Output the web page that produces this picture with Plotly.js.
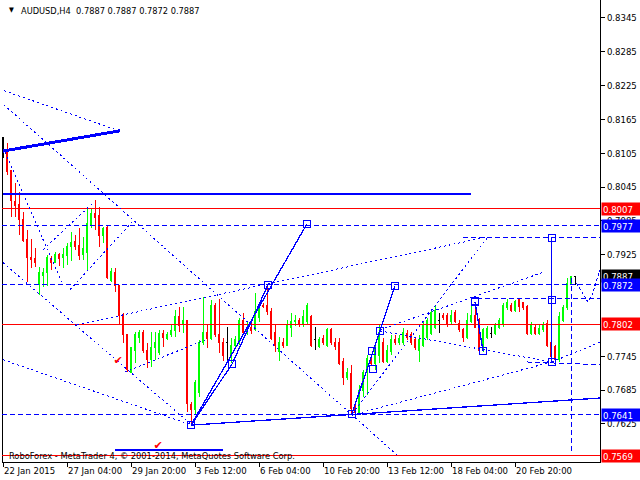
<!DOCTYPE html>
<html><head><meta charset="utf-8">
<script src="https://cdn.plot.ly/plotly-3.0.1.min.js"></script>
<style>body{margin:0;background:#fff} #chart path{shape-rendering:crispEdges !important}</style>
</head><body><div id="chart" style="width:640px;height:480px"></div>
<script>
// ---- axis data ----
const tickIndex = [0,16,32,48,64,80,96,112,128];
const tickLabels = ['22 Jan 2015','27 Jan 04:00','29 Jan 20:00','3 Feb 12:00','6 Feb 04:00','10 Feb 20:00','13 Feb 12:00','18 Feb 04:00','20 Feb 20:00'];
const priceTicks = [0.7625,0.7685,0.7745,0.7925,0.7985,0.8045,0.8105,0.8165,0.8225,0.8285,0.8345];
const priceMin = 0.75576, priceMax = 0.83769;
const barMin = -0.25, barMax = 149.25;

// ---- H4 bars (O,H,L,C) ----
const open = [.8109,.8107,.8074,.8020,.8015,.7987,.7953,.7921,.7919,.7875,.7889,.7893,.7919,.7912,.7925,.7921,.7923,.7939,.7948,.7942,
.7925,.7930,.7978,.7999,.7994,.7960,.7973,.7880,.7893,.7870,.7818,.7783,.7717,.7756,.7779,.7788,.7756,.7739,.7760,.7751,
.7786,.7777,.7783,.7790,.7815,.7801,.7808,.7660,.7650,.7680,.7770,.7788,.7777,.7836,.7783,.7770,.7770,.7747,.7765,.7769,
.7809,.7788,.7797,.7792,.7813,.7836,.7836,.7824,.7788,.7753,.7770,.7765,.7797,.7806,.7808,.7801,.7806,.7815,.7774,.7762,
.7777,.7765,.7792,.7769,.7769,.7735,.7707,.7715,.7655,.7646,.7685,.7717,.7742,.7733,.7747,.7770,.7735,.7753,.7774,.7769,
.7770,.7786,.7783,.7774,.7756,.7765,.7779,.7786,.7797,.7809,.7818,.7818,.7806,.7822,.7804,.7792,.7779,.7806,.7818,.7809,
.7756,.7779,.7786,.7786,.7797,.7801,.7831,.7836,.7827,.7845,.7840,.7833,.7786,.7797,.7786,.7792,.7804,.7769,.7762,.7739,
.7809,.7831,.7875,.7887];
const high = [.8134,.8123,.8075,.8052,.8036,.8001,.7969,.7953,.7937,.7903,.7902,.7925,.7923,.7930,.7928,.7937,.7946,.7966,.7960,.7973,
.7957,.8008,.8008,.8022,.8010,.7974,.7978,.7902,.7902,.7872,.7822,.7785,.7762,.7788,.7792,.7792,.7769,.7788,.7788,.7792,
.7792,.7788,.7801,.7827,.7832,.7832,.7809,.7664,.7703,.7774,.7850,.7801,.7845,.7840,.7847,.7777,.7797,.7777,.7781,.7813,
.7822,.7806,.7809,.7857,.7840,.7840,.7872,.7831,.7801,.7779,.7777,.7809,.7822,.7818,.7813,.7827,.7840,.7818,.7797,.7779,
.7783,.7795,.7795,.7777,.7777,.7742,.7724,.7730,.7659,.7694,.7721,.7747,.7747,.7765,.7801,.7777,.7765,.7783,.7783,.7783,
.7795,.7792,.7788,.7779,.7783,.7806,.7813,.7827,.7836,.7822,.7822,.7822,.7827,.7827,.7809,.7795,.7822,.7840,.7840,.7813,
.7795,.7799,.7797,.7804,.7813,.7840,.7847,.7840,.7845,.7847,.7842,.7836,.7806,.7801,.7801,.7806,.7809,.7774,.7765,.7824,
.7836,.7884,.7887,.7887];
const low = [.8097,.8067,.7992,.7992,.7960,.7948,.7877,.7902,.7903,.7854,.7868,.7870,.7898,.7911,.7905,.7902,.7907,.7914,.7934,.7916,
.7916,.7896,.7973,.7969,.7939,.7946,.7882,.7877,.7859,.7801,.7769,.7717,.7715,.7733,.7769,.7751,.7724,.7726,.7739,.7747,
.7762,.7774,.7779,.7779,.7788,.7786,.7646,.7623,.7641,.7673,.7765,.7760,.7774,.7779,.7751,.7736,.7736,.7734,.7760,.7765,
.7785,.7783,.7785,.7790,.7806,.7831,.7818,.7774,.7753,.7736,.7760,.7763,.7779,.7799,.7797,.7797,.7801,.7762,.7756,.7760,
.7765,.7762,.7765,.7756,.7730,.7694,.7703,.7645,.7641,.7645,.7673,.7676,.7730,.7721,.7733,.7733,.7733,.7747,.7765,.7765,
.7765,.7774,.7765,.7756,.7735,.7762,.7774,.7783,.7793,.7786,.7809,.7797,.7801,.7804,.7788,.7770,.7776,.7804,.7795,.7753,
.7753,.7776,.7777,.7783,.7793,.7797,.7827,.7824,.7824,.7824,.7827,.7783,.7783,.7783,.7783,.7788,.7762,.7739,.7735,.7735,
.7806,.7827,.7872,.7872];
const close = [.8109,.8072,.8022,.8013,.7987,.7951,.7921,.7916,.7912,.7893,.7893,.7921,.7912,.7925,.7919,.7925,.7939,.7946,.7939,.7923,
.7937,.7981,.7999,.7992,.7960,.7971,.7884,.7895,.7870,.7818,.7783,.7721,.7760,.7783,.7788,.7756,.7739,.7760,.7770,.7786,
.7779,.7783,.7790,.7815,.7799,.7809,.7662,.7650,.7698,.7770,.7788,.7777,.7836,.7783,.7770,.7747,.7770,.7765,.7774,.7809,
.7788,.7797,.7790,.7825,.7836,.7834,.7824,.7777,.7765,.7770,.7765,.7801,.7806,.7808,.7801,.7815,.7836,.7765,.7774,.7774,
.7769,.7792,.7769,.7762,.7733,.7707,.7717,.7653,.7645,.7685,.7717,.7742,.7733,.7760,.7788,.7735,.7756,.7774,.7769,.7776,
.7788,.7779,.7769,.7760,.7774,.7801,.7809,.7822,.7827,.7809,.7813,.7801,.7818,.7806,.7792,.7779,.7809,.7818,.7797,.7756,
.7792,.7795,.7786,.7801,.7809,.7836,.7840,.7827,.7842,.7833,.7831,.7786,.7801,.7786,.7795,.7801,.7765,.7744,.7739,.7815,
.7831,.7875,.7886,.7887];

// ---- levels and labels ----
const redLevels = [0.8007, 0.7802, 0.7569];
const blueDashLevels = [0.7977, 0.7872, 0.7641];
const labelLevels = [0.8007, 0.7977, 0.7887, 0.7872, 0.7802, 0.7641, 0.7569];
const labelColors = ['#ff0000','#0000ff','#000000','#0000ff','#ff0000','#0000ff','#ff0000'];

// ---- drawn objects: [barFrom, priceFrom, barTo, priceTo] ----
const thickLines = [[0,0.8109,29.25,0.8145]];
const solidLines = [
 [47,0.7623,76,0.7980],[47,0.7623,57.25,0.7731],[57.25,0.7731,66.25,0.7872],
 [47,0.7623,149.25,0.7671],[0,0.8033,117,0.8033],[137.2,0.7955,137.2,0.7735],
 [87.25,0.7643,98,0.7870],[118,0.7842,120,0.7754],[28,0.7579,55,0.7579]];
const dottedLines = [
 [0.25,0.8216,29,0.8145],[0.25,0.8191,98.5,0.7570],[0.5,0.8107,14.75,0.7875],
 [18.5,0.7801,121.25,0.7957],[87.25,0.7643,121.25,0.7957],[0,0.7739,47.25,0.7623],
 [0,0.7911,47.25,0.7623],[16.75,0.7863,32.25,0.7983],[10,0.7934,22.5,0.8017],
 [94.25,0.7790,137.2,0.7735],[87.25,0.7641,137.2,0.7735],[137.2,0.7735,149.25,0.7770],
 [94.25,0.7792,135,0.7894],[30.5,0.7717,50.5,0.7774]];
const dashedLines = [
 [115,0.7955,149.25,0.7955],[118.5,0.7847,149.25,0.7847],[131,0.7735,149.25,0.7730],
 [142,0.7884,142,0.7572]];
const forecastBars = [143.4,145.5,146.25,147.25,149.25];
const forecastPrices = [0.7875,0.7850,0.7841,0.7854,0.7898];
const squareBars = [47,57.25,66.25,76,87.25,92.5,92.25,94.25,98,118,120,137.2,137.2,137.2];
const squarePrices = [0.7623,0.7731,0.7872,0.7980,0.7643,0.7722,0.7754,0.7790,0.7870,0.7842,0.7754,0.7955,0.7845,0.7735];
const checkBars = [28.75, 38.75];
const checkPrices = [0.7737, 0.7586];

const FONT = 'Tahoma, "DejaVu Sans Condensed", "DejaVu Sans", sans-serif';
const BLUE = '#0000ff', RED = '#ff0000', GREEN = '#00ff00';
const DOT = '2px,3px', DASH = '5px,3px';

const idx = open.map((_, i) => i);
const isDoji = idx.map(i => open[i] === close[i]);
const pick = (arr, want) => idx.filter(i => isDoji[i] === want).map(i => arr[i]);

function segTrace(segs, color, width, dash) {
  const x = [], y = [];
  segs.forEach(s => { x.push(s[0], s[2], null); y.push(s[1], s[3], null); });
  return {type:'scatter', mode:'lines', x, y, line:{color, width, dash}, hoverinfo:'skip', showlegend:false};
}
const levelSegs = levels => levels.map(p => [barMin, p, barMax, p]);

const traces = [
  {type:'candlestick', x:pick(idx,false), open:pick(open,false), high:pick(high,false), low:pick(low,false), close:pick(close,false),
   increasing:{line:{color:GREEN, width:1}, fillcolor:GREEN},
   decreasing:{line:{color:RED, width:1}, fillcolor:RED}, whiskerwidth:0, hoverinfo:'skip', showlegend:false},
  {type:'candlestick', x:pick(idx,true), open:pick(open,true), high:pick(high,true), low:pick(low,true), close:pick(close,true),
   increasing:{line:{color:'#000', width:1}, fillcolor:'#000'},
   decreasing:{line:{color:'#000', width:1}, fillcolor:'#000'}, whiskerwidth:0, hoverinfo:'skip', showlegend:false},
  {type:'scatter', mode:'lines', x:[-0.15,-0.15], y:[high[0], priceMin], line:{color:'#000', width:1.5}, hoverinfo:'skip', showlegend:false},
  segTrace(levelSegs(redLevels), RED, 1, 'solid'),
  segTrace(levelSegs(blueDashLevels), BLUE, 1, DASH),
  segTrace(dottedLines, BLUE, 1, DOT),
  segTrace(dashedLines, BLUE, 1, DASH),
  {type:'scatter', mode:'lines', x:forecastBars, y:forecastPrices, line:{color:BLUE, width:1, dash:'3px,2px'}, hoverinfo:'skip', showlegend:false},
  segTrace(solidLines, BLUE, 1.3, 'solid'),
  segTrace(thickLines, BLUE, 3, 'solid'),
  {type:'scatter', mode:'markers', x:squareBars, y:squarePrices, marker:{symbol:'square-open', size:7, color:BLUE, line:{width:1.3, color:BLUE}}, hoverinfo:'skip', showlegend:false},
  {type:'scatter', mode:'text', x:checkBars, y:checkPrices, text:checkBars.map(()=>'✔'), textfont:{color:RED, size:11, family:'DejaVu Sans'}, hoverinfo:'skip', showlegend:false}
];

const annotations = [
  {xref:'paper', yref:'paper', x:0.008, y:0.978, xanchor:'left', yanchor:'middle', text:'▼', showarrow:false, font:{family:FONT, size:7, color:'#000'}},
  {xref:'paper', yref:'paper', x:0.0285, y:0.977, xanchor:'left', yanchor:'middle', text:'AUDUSD,H4  0.7887 0.7887 0.7872 0.7887', showarrow:false, font:{family:FONT, size:9.2, color:'#000'}},
  {xref:'paper', yref:'paper', x:0.008, y:0.015, xanchor:'left', yanchor:'middle', text:'RoboForex - MetaTrader 4, © 2001-2014, MetaQuotes Software Corp.', showarrow:false, font:{family:FONT, size:9.2, color:'#000'}}
];
labelLevels.forEach((p, k) => annotations.push({
  xref:'paper', yref:'y', x:1, y:p, xanchor:'left', yanchor:'middle', xshift:1,
  text:p.toFixed(4), showarrow:false, bgcolor:labelColors[k], borderpad:1, width:36, height:10, align:'left',
  font:{family:FONT, size:9.5, color:'#fff'}
}));

const layout = {
  width:640, height:480, margin:{l:2, r:40, t:0, b:18},
  paper_bgcolor:'#fff', plot_bgcolor:'#fff', showlegend:false,
  font:{family:FONT, size:9.5, color:'#000'},
  xaxis:{range:[barMin, barMax], tickvals:tickIndex, ticktext:tickLabels, ticks:'outside', ticklen:4, tickcolor:'#000', tickangle:0,
         ticklabelposition:'outside right', showgrid:false, zeroline:false, showline:true, linecolor:'#000', linewidth:1,
         rangeslider:{visible:false}, fixedrange:true, tickfont:{family:FONT, size:9.5, color:'#000'}},
  yaxis:{range:[priceMin, priceMax], side:'right', tickvals:priceTicks, tickformat:'.4f', ticks:'outside', ticklen:4, tickcolor:'#000',
         showgrid:false, zeroline:false, showline:true, linecolor:'#000', linewidth:1, fixedrange:true,
         tickfont:{family:FONT, size:9.5, color:'#000'}},
  annotations
};

Plotly.newPlot('chart', traces, layout, {staticPlot:true, displayModeBar:false});
</script>
</body></html>
